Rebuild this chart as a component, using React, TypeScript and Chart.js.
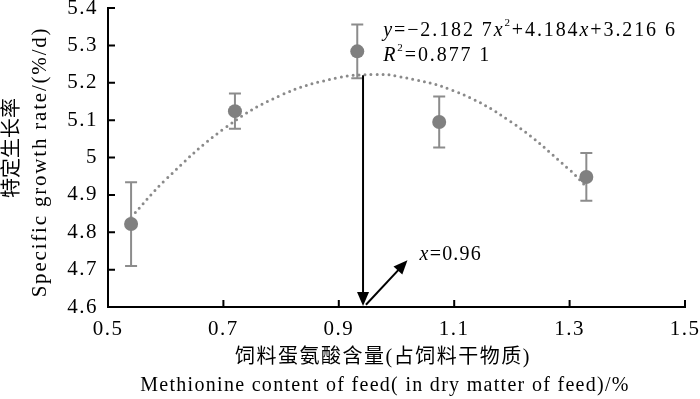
import { useEffect, useRef } from 'react';
import { Chart, registerables } from 'chart.js';

Chart.register(...registerables);

// ---- data ----
const methionine = [0.54, 0.72, 0.932, 1.074, 1.329];
const growthMean = [4.822, 5.124, 5.284, 5.095, 4.948];
const growthSD = [0.112, 0.047, 0.072, 0.068, 0.064];

// fitted quadratic trend
const trendX = [0.54, 0.6, 0.7, 0.8, 0.9, 0.96, 1.0, 1.1, 1.2, 1.3, 1.33];
const trendY = [4.84, 4.941, 5.076, 5.167, 5.214, 5.222, 5.218, 5.178, 5.094, 4.967, 4.92];

const xTicks = [0.5, 0.7, 0.9, 1.1, 1.3, 1.5];
const xTickLabels = ['0.5', '0.7', '0.9', '1.1', '1.3', '1.5'];
const yTicks = [4.6, 4.7, 4.8, 4.9, 5.0, 5.1, 5.2, 5.3, 5.4];
const yTickLabels = ['4.6', '4.7', '4.8', '4.9', '5', '5.1', '5.2', '5.3', '5.4'];

// optimum annotation
const optimumX = [0.942];
const optimumTop = [5.22];
const pointerFrom = [0.947, 4.606];
const pointerTo = [1.019, 4.725];
const optimumLabelAt = [1.04, 4.74];
const equationAt = [0.977, 5.338, 5.273];

const xTitleCn = '饲料蛋氨酸含量(占饲料干物质)';
const xTitleEn = 'Methionine content of feed( in dry matter of feed)/%';
const yTitleCn = '特定生长率';
const yTitleEn = 'Specific growth rate/(%/d)';

const SERIF = "'Liberation Serif', 'Times New Roman', serif";
const CJK = "'Liberation Serif', 'Noto Sans CJK SC', sans-serif";

type Run = { t: string; italic?: boolean; sup?: boolean };
const eqLine1: Run[] = [
  { t: 'y', italic: true },
  { t: '=−2.182 7' },
  { t: 'x', italic: true },
  { t: '2', sup: true },
  { t: '+4.184' },
  { t: 'x', italic: true },
  { t: '+3.216 6' },
];
const eqLine2: Run[] = [
  { t: 'R', italic: true },
  { t: '2', sup: true },
  { t: '=0.877 1' },
];
const optLabel: Run[] = [{ t: 'x', italic: true }, { t: '=0.96' }];

function drawRuns(ctx: CanvasRenderingContext2D, runs: Run[], x: number, y: number, size: number) {
  let cx = x;
  ctx.textAlign = 'left';
  ctx.textBaseline = 'middle';
  for (const r of runs) {
    const s = r.sup ? Math.round(size * 0.55) : size;
    ctx.font = `${r.italic ? 'italic ' : ''}${s}px ${SERIF}`;
    ctx.fillText(r.t, cx, r.sup ? y - size * 0.38 : y);
    cx += ctx.measureText(r.t).width;
  }
}

function arrowHead(ctx: CanvasRenderingContext2D, x0: number, y0: number, x1: number, y1: number) {
  const a = Math.atan2(y1 - y0, x1 - x0);
  const len = 14;
  const hw = 6;
  ctx.beginPath();
  ctx.moveTo(x1, y1);
  ctx.lineTo(x1 - len * Math.cos(a) + hw * Math.sin(a), y1 - len * Math.sin(a) - hw * Math.cos(a));
  ctx.lineTo(x1 - len * Math.cos(a) - hw * Math.sin(a), y1 - len * Math.sin(a) + hw * Math.cos(a));
  ctx.closePath();
  ctx.fill();
}

const decorPlugin = {
  id: 'decor',
  beforeDraw(chart: any) {
    (chart.ctx as any).letterSpacing = '1.5px';
  },
  beforeDatasetsDraw(chart: any) {
    const { ctx, scales } = chart;
    const xs = scales.x;
    const ys = scales.y;
    ctx.save();
    ctx.strokeStyle = '#8c8c8c';
    ctx.lineWidth = 2;
    methionine.forEach((m, i) => {
      const px = xs.getPixelForValue(m);
      const top = ys.getPixelForValue(growthMean[i] + growthSD[i]);
      const bot = ys.getPixelForValue(growthMean[i] - growthSD[i]);
      ctx.beginPath();
      ctx.moveTo(px, top);
      ctx.lineTo(px, bot);
      ctx.moveTo(px - 6, top);
      ctx.lineTo(px + 6, top);
      ctx.moveTo(px - 6, bot);
      ctx.lineTo(px + 6, bot);
      ctx.stroke();
    });
    ctx.restore();
  },
  afterDraw(chart: any) {
    const { ctx, scales, chartArea } = chart;
    const xs = scales.x;
    const ys = scales.y;
    ctx.save();
    ctx.strokeStyle = '#000';
    ctx.fillStyle = '#000';
    ctx.lineWidth = 2;
    // inward tick marks
    ctx.beginPath();
    xTicks.forEach((v) => {
      const px = xs.getPixelForValue(v);
      ctx.moveTo(px, chartArea.bottom);
      ctx.lineTo(px, chartArea.bottom - 7);
    });
    yTicks.forEach((v) => {
      const py = ys.getPixelForValue(v);
      ctx.moveTo(chartArea.left, py);
      ctx.lineTo(chartArea.left + 7, py);
    });
    ctx.stroke();

    // optimum arrows
    const ox = xs.getPixelForValue(optimumX[0]);
    const oTop = ys.getPixelForValue(optimumTop[0]);
    const oBot = ys.getPixelForValue(4.6);
    ctx.beginPath();
    ctx.moveTo(ox, oTop);
    ctx.lineTo(ox, oBot - 10);
    ctx.stroke();
    arrowHead(ctx, ox, oTop, ox, oBot - 1);
    const ax0 = xs.getPixelForValue(pointerFrom[0]);
    const ay0 = ys.getPixelForValue(pointerFrom[1]);
    const ax1 = xs.getPixelForValue(pointerTo[0]);
    const ay1 = ys.getPixelForValue(pointerTo[1]);
    const ang = Math.atan2(ay1 - ay0, ax1 - ax0);
    ctx.beginPath();
    ctx.moveTo(ax0, ay0);
    ctx.lineTo(ax1 - 8 * Math.cos(ang), ay1 - 8 * Math.sin(ang));
    ctx.stroke();
    arrowHead(ctx, ax0, ay0, ax1, ay1);

    // texts
    (ctx as any).letterSpacing = '1.9px';
    drawRuns(ctx, eqLine1, xs.getPixelForValue(equationAt[0]), ys.getPixelForValue(equationAt[1]), 20);
    drawRuns(ctx, eqLine2, xs.getPixelForValue(equationAt[0]), ys.getPixelForValue(equationAt[2]), 20);
    (ctx as any).letterSpacing = '1.2px';
    drawRuns(ctx, optLabel, xs.getPixelForValue(optimumLabelAt[0]), ys.getPixelForValue(optimumLabelAt[1]), 20);

    // axis titles
    ctx.textAlign = 'center';
    ctx.textBaseline = 'middle';
    (ctx as any).letterSpacing = '1.5px';
    ctx.font = `20px ${CJK}`;
    ctx.fillText(xTitleCn, 383, 358);
    (ctx as any).letterSpacing = '1.3px';
    ctx.font = `20px ${SERIF}`;
    ctx.fillText(xTitleEn, 385, 386);

    ctx.save();
    ctx.translate(13, 148);
    ctx.rotate(-Math.PI / 2);
    (ctx as any).letterSpacing = '0px';
    ctx.font = `20px ${CJK}`;
    ctx.fillText(yTitleCn, 0, 0);
    ctx.restore();
    ctx.save();
    ctx.translate(40, 162);
    ctx.rotate(-Math.PI / 2);
    (ctx as any).letterSpacing = '1.8px';
    ctx.font = `21px ${SERIF}`;
    ctx.fillText(yTitleEn, 0, 0);
    ctx.restore();
    ctx.restore();
  },
};

export default function App() {
  const ref = useRef<HTMLCanvasElement | null>(null);
  useEffect(() => {
    if (!ref.current) return;
    const chart = new Chart(ref.current, {
      type: 'line',
      data: {
        datasets: [
          {
            label: 'mean',
            data: methionine.map((m, i) => ({ x: m, y: growthMean[i] })),
            showLine: false,
            pointRadius: 7,
            pointBackgroundColor: '#808080',
            pointBorderWidth: 0,
            order: 0,
          },
          {
            label: 'trend',
            data: trendX.map((x, i) => ({ x, y: trendY[i] })),
            borderColor: '#8a8a8a',
            borderWidth: 3,
            borderDash: [0, 6],
            borderCapStyle: 'round',
            pointRadius: 0,
            tension: 0.4,
            fill: false,
            order: 1,
          },
        ],
      },
      options: {
        responsive: false,
        animation: false,
        events: [],
        layout: { padding: { top: 8, right: 15, left: 0, bottom: 0 } },
        plugins: { legend: { display: false }, tooltip: { enabled: false } },
        scales: {
          x: {
            type: 'linear',
            min: 0.5,
            max: 1.5,
            grid: { display: false, drawTicks: false },
            border: { display: true, color: '#000', width: 2 },
            afterBuildTicks: (s: any) => {
              s.ticks = xTicks.map((v) => ({ value: v }));
            },
            afterFit: (s: any) => {
              s.height = 92;
              s.paddingLeft = 0;
              s.paddingRight = 0;
            },
            ticks: {
              color: '#000',
              padding: 10,
              maxRotation: 0,
              autoSkip: false,
              font: { family: SERIF, size: 21 },
              callback: (_v: any, i: number) => xTickLabels[i],
            },
          },
          y: {
            type: 'linear',
            min: 4.6,
            max: 5.4,
            grid: { display: false, drawTicks: false },
            border: { display: true, color: '#000', width: 2 },
            afterBuildTicks: (s: any) => {
              s.ticks = yTicks.map((v) => ({ value: v }));
            },
            afterFit: (s: any) => {
              s.width = 108;
              s.paddingTop = 0;
              s.paddingBottom = 0;
            },
            ticks: {
              color: '#000',
              padding: 10,
              autoSkip: false,
              font: { family: SERIF, size: 21 },
              callback: (_v: any, i: number) => yTickLabels[i],
            },
          },
        },
      },
      plugins: [decorPlugin],
    } as any);
    return () => chart.destroy();
  }, []);
  return (
    <div style={{ position: 'absolute', left: 0, top: 0, width: 700, height: 399, background: '#fff' }}>
      <canvas ref={ref} width={700} height={399} />
    </div>
  );
}
